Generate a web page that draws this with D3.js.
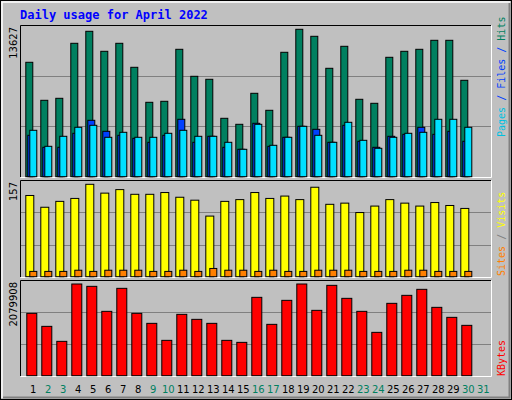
<!DOCTYPE html>
<html><head><meta charset="utf-8">
<script src="https://cdn.jsdelivr.net/npm/d3@7"></script>
<style>body{margin:0;background:#fff}</style>
</head><body><div id="chart"></div>
<script>
"use strict";

const days = d3.range(1, 32);
const weekends = [2, 3, 9, 10, 16, 17, 23, 24, 30, 31];
const hits = [10577, 7063, 7248, 12333, 13442, 11593, 12333, 10114, 6878, 6971, 11778, 9282, 9005, 5399, 4844, 7710, 6139, 11501, 13627, 12980, 10022, 12055, 7156, 6786, 11039, 11593, 11778, 12610, 12610, 8912];
const files = [3827, 2718, 2718, 4012, 5214, 4197, 3827, 3550, 3180, 3827, 5307, 3180, 3735, 2718, 2533, 4937, 2810, 3643, 4659, 4382, 3180, 4752, 3273, 2718, 3735, 3920, 4567, 3920, 4197, 3273];
const pages = [4290, 2810, 3735, 4567, 4752, 3643, 4105, 3643, 3643, 4012, 4290, 3735, 3735, 3180, 2533, 4844, 2903, 3643, 4659, 3827, 3180, 5029, 3365, 2626, 3643, 4012, 4105, 5307, 5307, 4567];
const visits = [138, 118, 128, 133, 157, 142, 148, 140, 140, 143, 135, 130, 103, 128, 131, 143, 133, 137, 131, 152, 123, 125, 109, 120, 131, 125, 120, 126, 121, 116];
const sites = [9, 9, 9, 11, 9, 11, 11, 11, 9, 9, 11, 9, 14, 11, 11, 9, 11, 9, 9, 11, 11, 11, 9, 9, 9, 11, 11, 9, 9, 9];
const kbytes = [1414300, 1119300, 779000, 2079908, 2026900, 1459700, 1981500, 1414300, 1187400, 801700, 1391600, 1278100, 1187400, 801700, 756300, 1777300, 1164700, 1709200, 2079908, 1482300, 2049600, 1754600, 1459700, 983200, 1641200, 1822700, 1958800, 1550400, 1323500, 1142000];

const W = 512, H = 400;
const svg = d3.select("#chart").append("svg").attr("width", W).attr("height", H);

// background and bevel
svg.append("rect").attr("x", 0.5).attr("y", 0.5).attr("width", W - 1).attr("height", H - 1)
  .attr("fill", "#c0c0c0").attr("stroke", "#000");
svg.append("path").attr("d", `M2,${H - 2}V2H${W - 2}`).attr("fill", "none").attr("stroke", "#fff").attr("stroke-width", 1.5);
svg.append("path").attr("d", `M3,${H - 2.5}H${W - 2.5}V3`).attr("fill", "none").attr("stroke", "#808080").attr("stroke-width", 2);

svg.append("text").attr("x", 20).attr("y", 19)
  .attr("font-family", "DejaVu Sans Mono").attr("font-weight", "bold").attr("font-size", 12)
  .attr("fill", "#0000ff").text("Daily usage for April 2022");

const x = d3.scaleBand().domain(days).range([25.3, 25.3 + 15 * 31]);
const stroke = "#000";

const panels = [
  { top: 25, bottom: 177, maxTop: 29.3, max: 13627 },
  { top: 180, bottom: 277, maxTop: 184.3, max: 157 },
  { top: 280, bottom: 376, maxTop: 284, max: 2079908 }
];

panels.forEach(p => {
  svg.append("path").attr("d", `M20.5,${p.bottom}V${p.top + 0.5}H491`).attr("fill", "none").attr("stroke", "#000");
  svg.append("path").attr("d", `M20.5,${p.bottom + 0.5}H491.5V${p.top + 0.5}`).attr("fill", "none").attr("stroke", "#fff");
  const h = p.bottom - p.top;
  [1 / 3, 2 / 3].forEach(f => {
    svg.append("line").attr("x1", 21).attr("x2", 491)
      .attr("y1", Math.round(p.bottom - h * f) + 0.5).attr("y2", Math.round(p.bottom - h * f) + 0.5)
      .attr("stroke", "#808080");
  });
  p.y = d3.scaleLinear().domain([0, p.max]).range([p.bottom - 0.3, p.maxTop]);
});

const bars = (data, panel, dx, w, fill) => {
  const y = panel.y;
  svg.append("g").selectAll("rect").data(data).enter().append("rect")
    .attr("x", (d, i) => x(days[i]) + dx + 0.5)
    .attr("y", d => y(d))
    .attr("width", w)
    .attr("height", d => y(0) - y(d))
    .attr("fill", fill).attr("stroke", stroke).attr("stroke-width", 1);
};

bars(hits, panels[0], 0, 7, "#008060");
bars(files, panels[0], 2, 7, "#0040ff");
bars(pages, panels[0], 4, 7, "#00e0ff");
bars(visits, panels[1], 0, 8, "#ffff00");
bars(sites, panels[1], 4, 7, "#ff8000");
bars(kbytes, panels[2], 1, 10, "#ff0000");

// left max labels
[["13627", 25], ["157", 180], ["2079908", 280]].forEach(([t, yy]) => {
  svg.append("text").attr("transform", `translate(17,${yy + 2}) rotate(-90)`)
    .attr("text-anchor", "end").attr("font-family", "DejaVu Sans").attr("font-size", 10)
    .attr("fill", "#000").text(t);
});

// right legends
const legend = (parts, yy) => {
  const t = svg.append("text").attr("transform", `translate(505,${yy}) rotate(-90)`)
    .attr("font-family", "DejaVu Sans Mono").attr("font-size", 10);
  parts.forEach(([s, c]) => t.append("tspan").attr("fill", c).text(s));
};
legend([["Pages", "#00c0e0"], [" / ", "#0040ff"], ["Files", "#0040ff"], [" / ", "#0040ff"], ["Hits", "#008060"]], 137);
legend([["Sites", "#ff8000"], [" / ", "#808080"], ["Visits", "#ffff00"]], 276);
legend([["KBytes", "#ff0000"]], 376);

// day labels
svg.append("g").selectAll("text").data(days).enter().append("text")
  .attr("x", d => x(d) + 8)
  .attr("y", 393)
  .attr("text-anchor", "middle")
  .attr("font-family", "DejaVu Sans").attr("font-size", 10)
  .attr("fill", d => weekends.includes(d) ? "#008060" : "#000")
  .text(d => d);
</script>
</body></html>
